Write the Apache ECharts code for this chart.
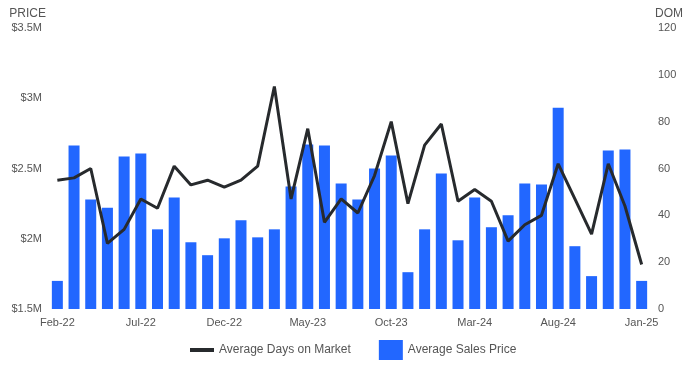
<!DOCTYPE html>
<html>
<head>
<meta charset="utf-8">
<script src="https://cdn.jsdelivr.net/npm/echarts@6/dist/echarts.min.js"></script>
<style>html,body{margin:0;padding:0;background:#fff}#c{width:694px;height:373px}</style>
</head>
<body>
<div id="c"></div>
<script>
var categories = ['Feb-22','Mar-22','Apr-22','May-22','Jun-22','Jul-22','Aug-22','Sep-22','Oct-22','Nov-22','Dec-22',
  'Jan-23','Feb-23','Mar-23','Apr-23','May-23','Jun-23','Jul-23','Aug-23','Sep-23','Oct-23','Nov-23','Dec-23',
  'Jan-24','Feb-24','Mar-24','Apr-24','May-24','Jun-24','Jul-24','Aug-24','Sep-24','Oct-24','Nov-24','Dec-24','Jan-25'];
var salesPrice = [1700000,2663000,2280000,2220000,2585000,2606000,2067000,2294000,1975000,1883000,2003000,
  2131000,2010000,2067000,2372000,2670000,2663000,2394000,2280000,2500000,2592000,1762000,2067000,
  2465000,1989000,2294000,2082000,2167000,2394000,2387000,2933000,1947000,1734000,2628000,2635000,1700000];
var daysOnMarket = [55,56,60,28,34,47,43,61,53,55,52,
  55,61,95,47,77,37,47,41,57,80,45,70,
  79,46,51,46,29,36,40,62,47,32,62,44,19];
var priceTicks = {min:1500000, max:3500000, interval:500000};
var domTicks = {min:0, max:120, interval:20};

var chart = echarts.init(document.getElementById('c'));
var txt = '#555';
var ff = 'Arial, Liberation Sans, sans-serif';
chart.setOption({
  animation:false,
  grid:{left:49, right:44, top:28, bottom:64, containLabel:false},
  legend:{
    bottom:8, left:185, itemGap:28, itemWidth:24, itemHeight:20,
    textStyle:{color:txt, fontSize:12, fontFamily:ff},
    data:[
      {name:'Average Days on Market', icon:'path://M0,8H24V12H0Z', itemStyle:{color:'#272a2d'}},
      {name:'Average Sales Price', icon:'rect'}
    ]
  },
  xAxis:{
    type:'category', data:categories, boundaryGap:true,
    axisLine:{show:false}, axisTick:{show:false},
    axisLabel:{interval:4, color:txt, fontSize:11, margin:8, fontFamily:ff}
  },
  yAxis:[{
    type:'value', min:priceTicks.min, max:priceTicks.max, interval:priceTicks.interval,
    name:'PRICE', nameLocation:'end', nameGap:8,
    nameTextStyle:{color:txt, fontSize:12, align:'right', padding:[0,3,0,0], fontFamily:ff},
    splitLine:{show:false}, axisLine:{show:false}, axisTick:{show:false},
    axisLabel:{color:txt, fontSize:11, margin:7, fontFamily:ff,
      formatter:function(v){return '$'+(v/1e6)+'M';}}
  },{
    type:'value', min:domTicks.min, max:domTicks.max, interval:domTicks.interval,
    name:'DOM', nameLocation:'end', nameGap:8,
    nameTextStyle:{color:txt, fontSize:12, align:'left', padding:[0,0,0,5], fontFamily:ff},
    splitLine:{show:false}, axisLine:{show:false}, axisTick:{show:false},
    axisLabel:{color:txt, fontSize:11, margin:8, fontFamily:ff}
  }],
  series:[{
    name:'Average Days on Market', type:'line', yAxisIndex:1, data:daysOnMarket,
    symbol:'none', z:3,
    lineStyle:{color:'#272a2d', width:3}, itemStyle:{color:'#272a2d'}
  },{
    name:'Average Sales Price', type:'bar', yAxisIndex:0, data:salesPrice,
    barWidth:11, itemStyle:{color:'#2267ff'}, z:2
  }]
});
</script>
</body>
</html>
